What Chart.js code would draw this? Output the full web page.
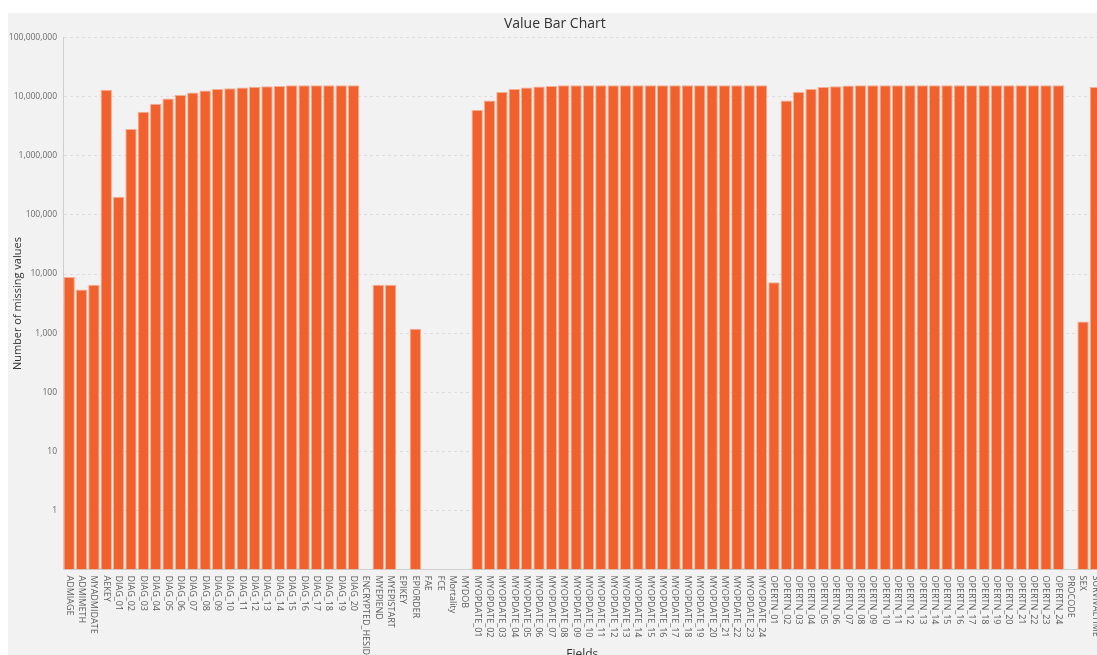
<!DOCTYPE html>
<html>
<head>
<meta charset="utf-8">
<title>Value Bar Chart</title>
<script src="https://cdn.jsdelivr.net/npm/chart.js@4/dist/chart.umd.min.js"></script>
<style>
  html, body { margin: 0; padding: 0; background: #ffffff; overflow: hidden; width: 1097px; height: 655px; }
  #panel { position: absolute; left: 8px; top: 13px; width: 1100px; height: 655px; background: #f2f2f2; }
  #chart { display: block; }
</style>
</head>
<body>
<div id="panel"><canvas id="chart" width="1100" height="655"></canvas></div>
<script>
// Field names along the x axis
const fields = [
  "ADMIAGE", "ADMIMETH", "MYADMIDATE", "AEKEY",
  "DIAG_01", "DIAG_02", "DIAG_03", "DIAG_04", "DIAG_05", "DIAG_06", "DIAG_07", "DIAG_08", "DIAG_09", "DIAG_10",
  "DIAG_11", "DIAG_12", "DIAG_13", "DIAG_14", "DIAG_15", "DIAG_16", "DIAG_17", "DIAG_18", "DIAG_19", "DIAG_20",
  "ENCRYPTED_HESID", "MYEPIEND", "MYEPISTART", "EPIKEY", "EPIORDER", "FAE", "FCE", "Mortality", "MYDOB",
  "MYOPDATE_01", "MYOPDATE_02", "MYOPDATE_03", "MYOPDATE_04", "MYOPDATE_05", "MYOPDATE_06", "MYOPDATE_07", "MYOPDATE_08",
  "MYOPDATE_09", "MYOPDATE_10", "MYOPDATE_11", "MYOPDATE_12", "MYOPDATE_13", "MYOPDATE_14", "MYOPDATE_15", "MYOPDATE_16",
  "MYOPDATE_17", "MYOPDATE_18", "MYOPDATE_19", "MYOPDATE_20", "MYOPDATE_21", "MYOPDATE_22", "MYOPDATE_23", "MYOPDATE_24",
  "OPERTN_01", "OPERTN_02", "OPERTN_03", "OPERTN_04", "OPERTN_05", "OPERTN_06", "OPERTN_07", "OPERTN_08",
  "OPERTN_09", "OPERTN_10", "OPERTN_11", "OPERTN_12", "OPERTN_13", "OPERTN_14", "OPERTN_15", "OPERTN_16",
  "OPERTN_17", "OPERTN_18", "OPERTN_19", "OPERTN_20", "OPERTN_21", "OPERTN_22", "OPERTN_23", "OPERTN_24",
  "PROCODE", "SEX", "SURVIVALTIME"
];

// Number of missing values per field (null = no missing values)
const missingValues = [
  8900, 5500, 6600, 13100000,
  204000, 2850000, 5600000, 7600000, 9350000, 10700000, 11800000, 12800000, 13500000, 14000000,
  14400000, 14800000, 15100000, 15300000, 15700000, 15700000, 15700000, 15700000, 15700000, 15700000,
  null, 6600, 6600, null, 1190, null, null, null, null,
  5970000, 8670000, 12000000, 13500000, 14400000, 14900000, 15300000, 15700000,
  15700000, 15700000, 15700000, 15700000, 15700000, 15700000, 15700000, 15700000,
  15700000, 15700000, 15700000, 15700000, 15700000, 15700000, 15700000, 15700000,
  7300, 8670000, 12000000, 13500000, 14600000, 15100000, 15500000, 15700000,
  15700000, 15700000, 15700000, 15700000, 15700000, 15700000, 15700000, 15700000,
  15700000, 15700000, 15700000, 15700000, 15700000, 15700000, 15700000, 15700000,
  null, 1570, 14600000
];

// Log-scale tick values shown on the y axis
const yTicks = [1, 10, 100, 1000, 10000, 100000, 1000000, 10000000, 100000000];

const FONT = "'Open Sans', 'Noto Sans', sans-serif";

// Field names are written top-to-bottom under each bar
const verticalLabels = {
  id: 'verticalLabels',
  afterDraw(chart) {
    const xs = chart.scales.x;
    const ctx = chart.ctx;
    ctx.save();
    ctx.font = "9px " + FONT;
    ctx.fillStyle = "#595959";
    ctx.textAlign = "left";
    ctx.textBaseline = "middle";
    fields.forEach((name, i) => {
      const x = xs.getPixelForValue(i);
      ctx.save();
      ctx.translate(x, chart.chartArea.bottom + 6);
      ctx.rotate(Math.PI / 2);
      ctx.fillText(name, 0, 0);
      ctx.restore();
    });
    ctx.restore();
  }
};

new Chart(document.getElementById('chart'), {
  type: 'bar',
  data: {
    labels: fields,
    datasets: [{
      label: 'Missing values',
      data: missingValues,
      backgroundColor: '#f1612d',
      borderColor: '#f6ae90',
      borderWidth: 1,
      barPercentage: 0.92,
      categoryPercentage: 1.0
    }]
  },
  plugins: [verticalLabels],
  options: {
    responsive: false,
    animation: false,
    devicePixelRatio: 1,
    layout: { padding: { left: 0, right: 6.4, top: 0, bottom: 0 } },
    plugins: {
      legend: { display: false },
      tooltip: { enabled: false },
      title: {
        display: true,
        text: 'Value Bar Chart',
        color: '#333333',
        font: { family: FONT, size: 14, weight: 'normal', lineHeight: 1.2 },
        padding: { top: 3, bottom: 4.9 }
      }
    },
    scales: {
      x: {
        type: 'category',
        offset: true,
        grid: { display: false },
        border: { display: true, color: '#cfcfcf' },
        ticks: { display: false },
        title: {
          display: true,
          text: 'Fields',
          color: '#333333',
          font: { family: FONT, size: 12, lineHeight: 1.2 },
          padding: { top: 0, bottom: 6 }
        },
        afterFit(scale) { scale.height = 98.5; }
      },
      y: {
        type: 'logarithmic',
        min: 0.1,
        max: 100000000,
        afterBuildTicks(scale) { scale.ticks = yTicks.map(v => ({ value: v })); },
        grid: {
          color: '#dedede',
          lineWidth: 1,
          drawTicks: false
        },
        border: { display: true, color: '#cfcfcf', dash: [3, 3] },
        ticks: {
          padding: 6,
          color: '#6a6a6a',
          font: { family: FONT, size: 8.5 },
          callback: (v) => Number(v).toLocaleString('en-US')
        },
        title: {
          display: true,
          text: 'Number of missing values',
          color: '#333333',
          font: { family: FONT, size: 11, lineHeight: 1.2 },
          padding: { top: 3, bottom: 0 }
        },
        afterFit(scale) { scale.width = 55; }
      }
    }
  }
});
</script>
</body>
</html>
